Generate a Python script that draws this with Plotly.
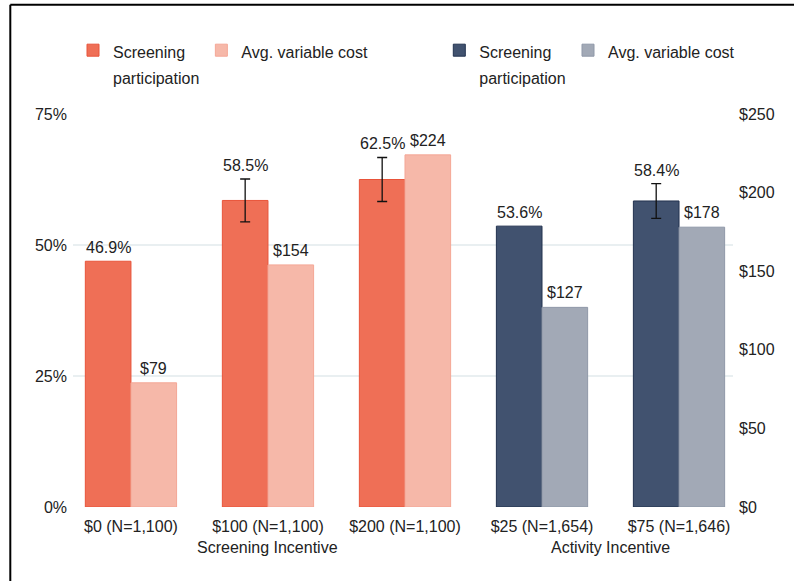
import plotly.graph_objects as go

# ---- data ----
categories = ["$0 (N=1,100)", "$100 (N=1,100)", "$200 (N=1,100)", "$25 (N=1,654)", "$75 (N=1,646)"]
incentive_type = ["Screening", "Screening", "Screening", "Activity", "Activity"]
participation = [46.9, 58.5, 62.5, 53.6, 58.4]       # percent
participation_err = [None, 4.1, 4.2, None, 3.3]      # +/- percentage points
avg_cost = [79, 154, 224, 127, 178]                  # dollars
group_titles = ["Screening Incentive", "Activity Incentive"]
legend_part = ["Screening", "participation"]
legend_cost = ["Avg. variable cost"]

FONT = "Liberation Sans, Arial, Helvetica, sans-serif"
TXT = "#222222"
W = 0.333

colors = {
    "Screening": {"part": ("#EF6F56", "#E8543A"), "cost": ("#F6B8A9", "#F4A796")},
    "Activity": {"part": ("#41526F", "#22324F"), "cost": ("#A2A9B6", "#8F98A8")},
}
legend_x = {"legend": 0.0, "legend2": 0.1945, "legend3": 0.555, "legend4": 0.75}


def lgtext(lines):
    return "<br>".join(f"<span style='font-size:16px'>{s}</span>" for s in lines)


fig = go.Figure()

pos = list(range(len(categories)))
for grp, lgp, lgc in [("Screening", "legend", "legend2"), ("Activity", "legend3", "legend4")]:
    idx = [i for i in pos if incentive_type[i] == grp]
    fc, lc = colors[grp]["part"]
    fig.add_trace(go.Bar(
        x=[pos[i] for i in idx], y=[participation[i] for i in idx],
        width=W, offset=-W, name=lgtext(legend_part),
        marker=dict(color=fc, line=dict(color=lc, width=1)),
        legend=lgp, yaxis="y", hoverinfo="skip",
    ))
    fc, lc = colors[grp]["cost"]
    fig.add_trace(go.Bar(
        x=[pos[i] for i in idx], y=[avg_cost[i] for i in idx],
        width=W, offset=0, name=lgtext(legend_cost),
        marker=dict(color=fc, line=dict(color=lc, width=1)),
        legend=lgc, yaxis="y2", hoverinfo="skip",
    ))

# error bars
eidx = [i for i in pos if participation_err[i] is not None]
fig.add_trace(go.Scatter(
    x=[pos[i] - W / 2 for i in eidx], y=[participation[i] for i in eidx],
    mode="markers", marker=dict(size=1, opacity=0),
    error_y=dict(type="data", array=[participation_err[i] for i in eidx],
                 color="#111111", thickness=1.3, width=5),
    showlegend=False, hoverinfo="skip", yaxis="y",
))

# value labels
for i in pos:
    fig.add_annotation(x=pos[i] - W / 2, y=participation[i] + (participation_err[i] or 0),
                       xref="x", yref="y", text=f"{participation[i]:.1f}%",
                       showarrow=False, yanchor="bottom", yshift=3,
                       font=dict(family=FONT, size=16, color=TXT))
    fig.add_annotation(x=pos[i] + W / 2, y=avg_cost[i],
                       xref="x", yref="y2", text=f"${avg_cost[i]}",
                       showarrow=False, yanchor="bottom", yshift=4,
                       font=dict(family=FONT, size=16, color=TXT))

# group titles
for title in group_titles:
    key = title.split()[0]
    idx = [i for i in pos if incentive_type[i] == key]
    xc = sum(idx) / len(idx) if key == "Activity" else idx[len(idx) // 2]
    fig.add_annotation(x=xc, xref="x", y=-0.102, yref="paper", text=title,
                       showarrow=False, font=dict(family=FONT, size=16, color=TXT),
                       yanchor="middle")

# frame lines
fig.add_shape(type="line", xref="paper", yref="paper", x0=-0.095, x1=1.2, y0=1.278, y1=1.278,
              line=dict(color="black", width=2))
fig.add_shape(type="line", xref="paper", yref="paper", x0=-0.095, x1=-0.095, y0=1.278, y1=-0.3,
              line=dict(color="black", width=2))

legend_common = dict(orientation="h", yanchor="top", xanchor="left",
                     font=dict(family=FONT, size=20, color=TXT), valign="top",
                     bgcolor="rgba(0,0,0,0)", traceorder="normal")

fig.update_layout(
    width=794, height=581,
    margin=dict(l=73, r=61, t=114, b=74),
    paper_bgcolor="white", plot_bgcolor="white",
    font=dict(family=FONT, size=16, color=TXT),
    barmode="overlay", showlegend=True,
    xaxis=dict(range=[-0.423, 4.394], tickvals=pos, ticktext=categories,
               showgrid=False, zeroline=False, showline=False, ticks="",
               ticklabelstandoff=8,
               tickfont=dict(family=FONT, size=16, color=TXT)),
    yaxis=dict(range=[0, 75], tickvals=[0, 25, 50, 75], ticktext=["0%", "25%", "50%", "75%"],
               showgrid=True, gridcolor="#E9EFF1", gridwidth=2, zeroline=False,
               showline=False, ticks="", ticklabelstandoff=5,
               tickfont=dict(family=FONT, size=16, color=TXT)),
    yaxis2=dict(range=[0, 250], tickvals=[0, 50, 100, 150, 200, 250],
                ticktext=["$0", "$50", "$100", "$150", "$200", "$250"],
                overlaying="y", side="right", showgrid=False, zeroline=False,
                showline=False, ticks="", ticklabelstandoff=5,
                tickfont=dict(family=FONT, size=16, color=TXT)),
)
for name, lx in legend_x.items():
    fig.update_layout({name: dict(x=lx, y=1.212, **legend_common)})

fig.write_html("out.html", config={"displayModeBar": False},
               post_script="document.body.style.margin='0';document.body.style.overflow='hidden';")
